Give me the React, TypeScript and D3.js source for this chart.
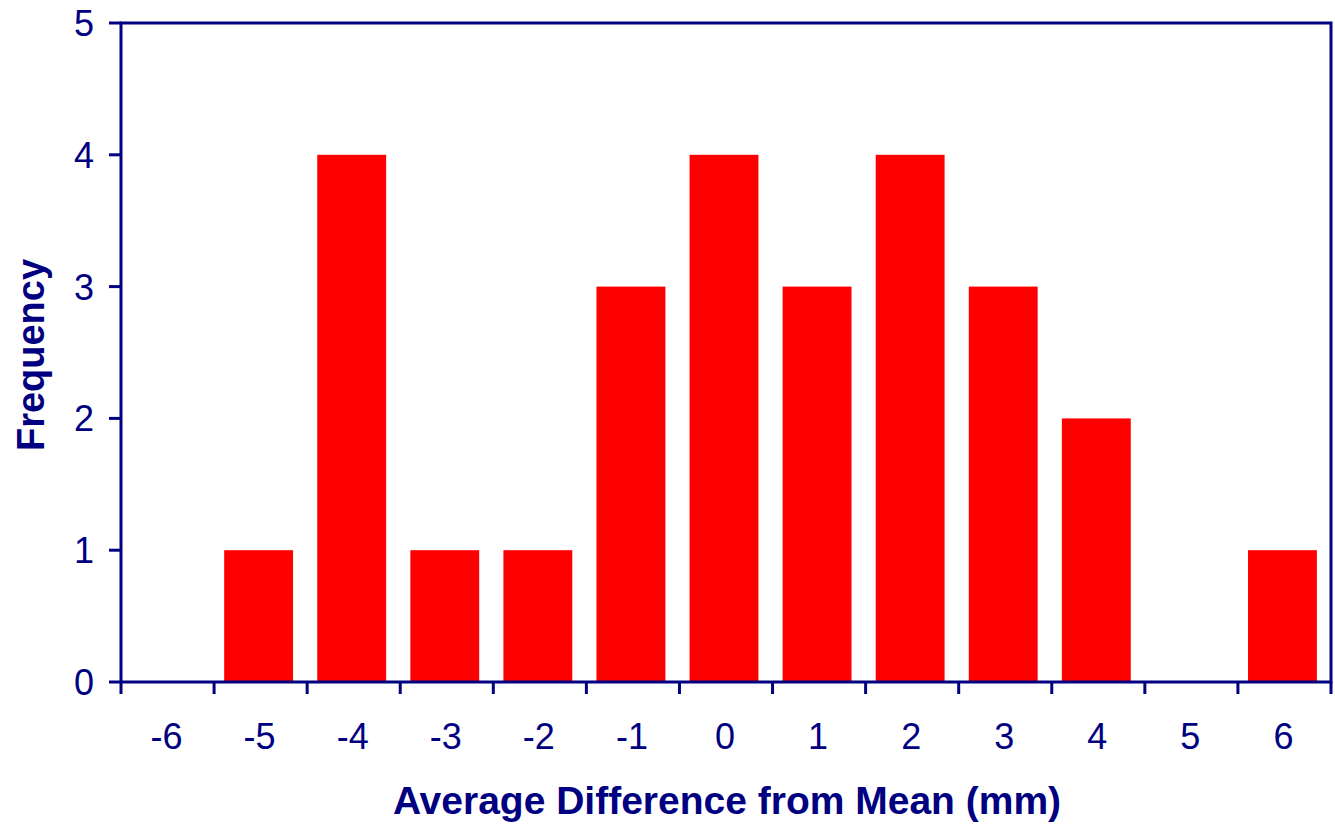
import { useEffect, useRef } from 'react'
import * as d3 from 'd3'

const categories = ['-6', '-5', '-4', '-3', '-2', '-1', '0', '1', '2', '3', '4', '5', '6']
const frequencies = [0, 1, 4, 1, 1, 3, 4, 3, 4, 3, 2, 0, 1]
const yTicks = [0, 1, 2, 3, 4, 5]

export default function App() {
  const svgRef = useRef<SVGSVGElement>(null)

  useEffect(() => {
    if (!svgRef.current) return
    const width = 1335
    const height = 826
    const left = 121
    const right = 1331
    const top = 23
    const bottom = 682
    const navy = '#000080'
    const font = 'Arial, "Liberation Sans", sans-serif'

    const svg = d3.select(svgRef.current)
    svg.selectAll('*').remove()
    svg.attr('width', width).attr('height', height)

    const x = d3.scaleBand<string>().domain(categories).range([left, right]).paddingInner(0.26).paddingOuter(0.13)
    const xEdge = d3.scaleLinear().domain([0, categories.length]).range([left, right])
    const y = d3.scaleLinear().domain([0, 5]).range([bottom, top])

    // bars (sit a touch left of band centre, as in the original)
    svg.append('g')
      .selectAll('rect')
      .data(frequencies)
      .enter()
      .append('rect')
      .attr('x', (_, i) => x(categories[i])! - 2)
      .attr('y', d => y(d))
      .attr('width', x.bandwidth())
      .attr('height', d => y(0) - y(d))
      .attr('fill', '#ff0000')

    // frame
    const frame = svg.append('g').attr('stroke', navy).attr('stroke-width', 3).attr('fill', 'none')
    frame.append('path').attr('d', `M${left},${top}H${right}V${bottom}H${left}Z`)

    // y ticks
    yTicks.forEach(t => {
      frame.append('line').attr('x1', left - 12).attr('x2', left).attr('y1', y(t)).attr('y2', y(t))
      svg.append('text')
        .attr('x', 94)
        .attr('y', y(t))
        .attr('dy', '0.36em')
        .attr('text-anchor', 'end')
        .attr('fill', navy)
        .attr('font-family', font)
        .attr('font-size', 36)
        .text(t)
    })

    // x ticks at bin edges
    d3.range(categories.length + 1).forEach(i => {
      frame.append('line').attr('x1', xEdge(i)).attr('x2', xEdge(i)).attr('y1', bottom).attr('y2', bottom + 12)
    })

    categories.forEach(c => {
      svg.append('text')
        .attr('x', x(c)! + x.bandwidth() / 2 - 1)
        .attr('y', 749)
        .attr('text-anchor', 'middle')
        .attr('fill', navy)
        .attr('font-family', font)
        .attr('font-size', 36)
        .text(c)
    })

    svg.append('text')
      .attr('x', 727)
      .attr('y', 814)
      .attr('text-anchor', 'middle')
      .attr('fill', navy)
      .attr('font-family', font)
      .attr('font-weight', 'bold')
      .attr('font-size', 39)
      .text('Average Difference from Mean (mm)')

    svg.append('text')
      .attr('transform', 'translate(44,355) rotate(-90)')
      .attr('text-anchor', 'middle')
      .attr('fill', navy)
      .attr('font-family', font)
      .attr('font-weight', 'bold')
      .attr('font-size', 38)
      .text('Frequency')
  }, [])

  return (
    <svg ref={svgRef} style={{ position: 'absolute', left: 0, top: 0, background: '#fff' }} />
  )
}
